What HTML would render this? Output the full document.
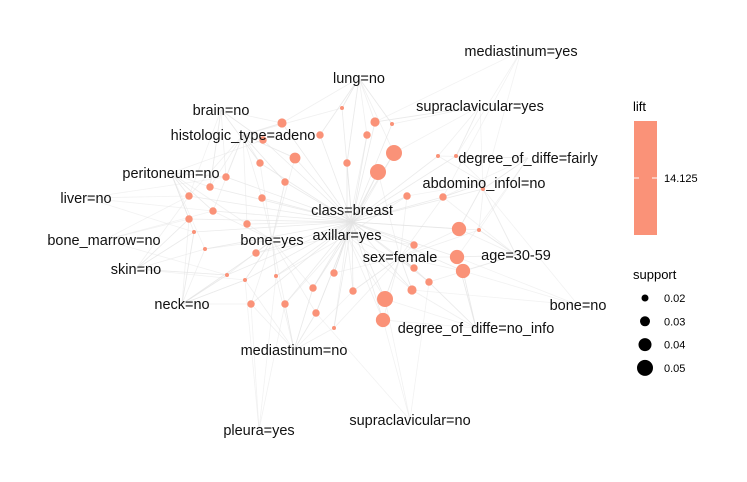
<!DOCTYPE html>
<html><head><meta charset="utf-8"><style>
body{margin:0;background:#fff}
svg{display:block;font-family:"Liberation Sans",sans-serif}
</style></head><body>
<svg id="chart" width="747" height="482">
<g id="edges"></g>
<g id="nodes"></g>
<g id="labels"></g>
<g>
<text x="633" y="111" font-size="13">lift</text>
<rect x="634" y="121" width="23" height="114" fill="#fa9278"/>
<line x1="634" y1="178" x2="639" y2="178" stroke="#fff"/>
<line x1="652" y1="178" x2="657" y2="178" stroke="#fff"/>
<text x="664" y="182" font-size="11">14.125</text>
</g>
<g id="sizeLegend">
<text x="633" y="279" font-size="13">support</text>
</g>
</svg>
<script>
const ruleSupport=[0.015,0.03,0.03,0.015,0.025,0.025,0.025,0.05,0.035,0.025,0.025,0.05,0.015,0.015,0.025,0.025,0.025,0.025,0.025,0.025,0.025,0.015,0.025,0.025,0.025,0.045,0.015,0.015,0.015,0.025,0.025,0.045,0.025,0.045,0.025,0.015,0.015,0.015,0.025,0.025,0.025,0.03,0.05,0.025,0.025,0.025,0.045,0.015];
const layoutX=[342,282,375,392,320,367,263,394,295,260,347,378,438,456,226,210,285,189,262,407,443,483,213,189,247,459,479,194,205,414,256,457,414,463,334,227,245,276,429,313,353,412,385,251,285,316,383,334];
const layoutY=[108,123,122,124,135,135,140,153,158,163,163,172,156,156,177,187,182,196,198,196,197,189,211,219,224,229,230,232,249,245,253,257,268,271,273,275,280,276,282,288,291,290,299,304,304,313,320,328];
const itemLabels=["mediastinum=yes","lung=no","supraclavicular=yes","brain=no","histologic_type=adeno","degree_of_diffe=fairly","peritoneum=no","abdomino_infol=no","liver=no","class=breast","bone_marrow=no","bone=yes","axillar=yes","sex=female","age=30-59","skin=no","neck=no","bone=no","degree_of_diffe=no_info","mediastinum=no","pleura=yes","supraclavicular=no"];
const labelX=[521,359,480,221,243,528,171,484,86,352,104,272,347,400,516,136,182,578,476,294,259,410];
const labelY=[51,78,106,110,135,158,173,183,198,210,240,240,235,257,255,269,304,305,328,350,430,420];
const legendSupport=[0.02,0.03,0.04,0.05];
const ns="http://www.w3.org/2000/svg";
const rScale=s=>2+ (s-0.015)/(0.035)*6;
const E=document.getElementById('edges'),N=document.getElementById('nodes'),L=document.getElementById('labels');
const center=[352,222];
function line(a,b,op){const l=document.createElementNS(ns,'line');
l.setAttribute('x1',a[0]);l.setAttribute('y1',a[1]);l.setAttribute('x2',b[0]);l.setAttribute('y2',b[1]);
l.setAttribute('stroke','#e2e2e2');l.setAttribute('stroke-opacity',op);l.setAttribute('stroke-width','0.8');


E.appendChild(l);}
ruleSupport.forEach((s,i)=>{const p=[layoutX[i],layoutY[i]];
line(center,p,0.7);
const d=labelX.map((x,j)=>[Math.hypot(x-p[0],labelY[j]-p[1]),j]).sort((a,b)=>a[0]-b[0]);
for(let k=0;k<3;k++){const j=d[k][1];if(j!==9)line([labelX[j],labelY[j]],p,0.5);}
});
labelX.forEach((x,j)=>{if(j===9)return;
const d=layoutX.map((nx,i)=>[Math.hypot(nx-x,layoutY[i]-labelY[j]),i]).sort((a,b)=>a[0]-b[0]);
for(let k=0;k<4;k++){const i=d[k*2][1];line([x,labelY[j]],[layoutX[i],layoutY[i]],0.45);}
});
ruleSupport.forEach((s,i)=>{const c=document.createElementNS(ns,'circle');
c.setAttribute('cx',layoutX[i]);c.setAttribute('cy',layoutY[i]);c.setAttribute('r',rScale(s));c.setAttribute('fill','#fa9278');


N.appendChild(c);});
itemLabels.forEach((t,i)=>{const e=document.createElementNS(ns,'text');
e.setAttribute('x',labelX[i]);e.setAttribute('y',labelY[i]+5);e.setAttribute('text-anchor','middle');e.setAttribute('font-size','14.5');e.setAttribute('fill','#111');
e.textContent=t;


L.appendChild(e);});
const SL=document.getElementById('sizeLegend');
legendSupport.forEach((s,i)=>{const y=298+i*23.3;
const c=document.createElementNS(ns,'circle');c.setAttribute('cx',645);c.setAttribute('cy',y);c.setAttribute('r',3.5+i*1.5);


SL.appendChild(c);
const t=document.createElementNS(ns,'text');t.setAttribute('x',664);t.setAttribute('y',y+4);t.setAttribute('font-size','11');t.textContent=s.toFixed(2);


SL.appendChild(t);});
</script>
</body></html>
